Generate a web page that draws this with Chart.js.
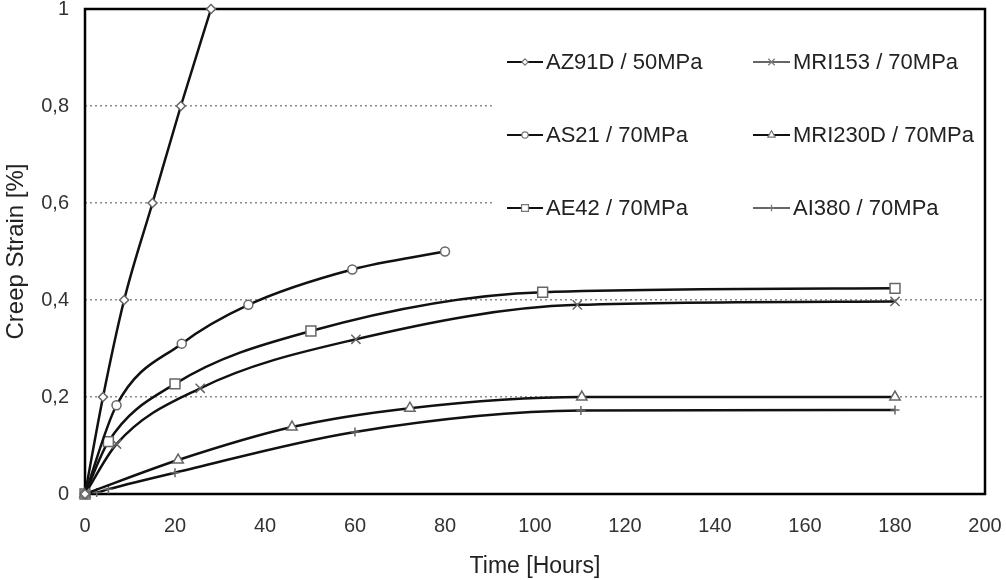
<!DOCTYPE html>
<html>
<head>
<meta charset="utf-8">
<script src="https://cdn.jsdelivr.net/npm/chart.js@4/dist/chart.umd.min.js"></script>
<style>
html,body{margin:0;padding:0;background:#fff;}
canvas{display:block;}
</style>
</head>
<body>
<canvas id="c" width="1006" height="580"></canvas>
<script>
// ---- data ----
const seriesLabels = ['AZ91D / 50MPa','AS21 / 70MPa','AE42 / 70MPa','MRI153 / 70MPa','MRI230D / 70MPa','AI380 / 70MPa'];

const az91dHours   = [0, 4, 8.7, 15, 21.3, 28];
const az91dStrain  = [0, 0.2, 0.4, 0.6, 0.8, 1.0];

const as21Hours    = [0, 7, 21.5, 36.3, 59.4, 80];
const as21Strain   = [0, 0.183, 0.31, 0.39, 0.463, 0.5];

const ae42Hours    = [0, 5.2, 20, 50.2, 101.7, 180];
const ae42Strain   = [0, 0.108, 0.227, 0.336, 0.416, 0.424];

const mri153Hours  = [0, 7, 25.6, 60.2, 109.4, 180];
const mri153Strain = [0, 0.103, 0.218, 0.319, 0.39, 0.397];

const mri230Hours  = [0, 20.7, 46, 72.2, 110.4, 180];
const mri230Strain = [0, 0.07, 0.138, 0.177, 0.2, 0.2];

const ai380Hours   = [0, 2.6, 5.2, 20, 60, 110.2, 180];
const ai380Strain  = [0, 0.003, 0.01, 0.044, 0.128, 0.172, 0.173];

const xTicks = [0,20,40,60,80,100,120,140,160,180,200];
const yTicks = [0,0.2,0.4,0.6,0.8,1];

const FONT = '"Liberation Sans", Arial, Helvetica, sans-serif';

function pts(xs, ys){ return xs.map((x,i)=>({x:x, y:ys[i]})); }

const styles = [
  {pointStyle:'rectRot', radius:4.5},
  {pointStyle:'circle', radius:4.5},
  {pointStyle:'rect', radius:7},
  {pointStyle:'crossRot', radius:6.5},
  {pointStyle:'triangle', radius:6},
  {pointStyle:'cross', radius:4.5}
];
const seriesData = [
  pts(az91dHours, az91dStrain),
  pts(as21Hours, as21Strain),
  pts(ae42Hours, ae42Strain),
  pts(mri153Hours, mri153Strain),
  pts(mri230Hours, mri230Strain),
  pts(ai380Hours, ai380Strain)
];

const datasets = seriesData.map((d,i)=>({
  label: seriesLabels[i],
  data: d,
  borderColor: '#111',
  borderWidth: 2.5,
  pointStyle: styles[i].pointStyle,
  pointRadius: styles[i].radius,
  pointBackgroundColor: '#fff',
  pointBorderColor: '#666',
  pointBorderWidth: 1.5,
  cubicInterpolationMode: 'monotone',
  clip: false,
  fill: false
}));

const framePlugin = {
  id: 'frame',
  beforeDatasetsDraw(chart){
    const {ctx, chartArea: a} = chart;
    ctx.save();
    // white area behind legend hiding the gridlines
    ctx.fillStyle = '#fff';
    ctx.fillRect(494, 22, a.right - 494 - 2, 212);
    // frame
    ctx.strokeStyle = '#000';
    ctx.lineWidth = 2.5;
    ctx.beginPath();
    ctx.moveTo(a.left, a.bottom);
    ctx.lineTo(a.left, a.top);
    ctx.lineTo(a.right, a.top);
    ctx.lineTo(a.right, a.bottom);
    ctx.lineTo(a.left, a.bottom);
    ctx.stroke();
    ctx.restore();
  },
  afterDraw(chart){
    const ctx = chart.ctx;
    const cols = [{x0:507, x1:543, tx:546},{x0:753, x1:790, tx:793}];
    const rows = [62, 135, 208];
    ctx.save();
    chart.data.datasets.forEach((ds,i)=>{
      const col = cols[Math.floor(i/3)];
      const y = rows[i%3];
      const thin = (ds.pointStyle === 'cross' || ds.pointStyle === 'crossRot');
      ctx.strokeStyle = thin ? '#333' : '#111';
      ctx.lineWidth = thin ? 1.5 : 2.2;
      ctx.beginPath();
      ctx.moveTo(col.x0, y);
      ctx.lineTo(col.x1, y);
      ctx.stroke();
      ctx.fillStyle = '#fff';
      ctx.strokeStyle = '#777';
      ctx.lineWidth = 1.2;
      Chart.helpers.drawPoint(ctx, {pointStyle: ds.pointStyle, radius: ds.pointRadius*0.7, rotation:0, borderWidth:1.2}, (col.x0+col.x1)/2, y);
      ctx.fillStyle = '#222';
      ctx.font = '22px ' + FONT;
      ctx.textAlign = 'left';
      ctx.textBaseline = 'middle';
      ctx.fillText(ds.label, col.tx, y + 1);
    });
    ctx.restore();
  }
};

new Chart(document.getElementById('c'), {
  type: 'line',
  data: { datasets: datasets },
  plugins: [framePlugin],
  options: {
    responsive: false,
    animation: false,
    devicePixelRatio: 1,
    layout: { padding: { top: 9, right: 21, left: 0, bottom: 0 } },
    plugins: { legend: { display: false }, tooltip: { enabled: false } },
    scales: {
      x: {
        type: 'linear',
        min: 0, max: 200,
        afterBuildTicks(scale){ scale.ticks = xTicks.map(v=>({value:v})); },
        afterFit(scale){ scale.height = 86; scale.paddingLeft = 0; scale.paddingRight = 0; },
        grid: { display: false, drawTicks: false },
        border: { display: false },
        ticks: { padding: 20, color: '#333', font: { family: FONT, size: 20 }, maxRotation: 0 },
        title: { display: true, text: 'Time [Hours]', color: '#222', padding: { top: 0, bottom: 0 }, font: { family: FONT, size: 23 } }
      },
      y: {
        type: 'linear',
        min: 0, max: 1,
        afterBuildTicks(scale){ scale.ticks = yTicks.map(v=>({value:v})); },
        afterFit(scale){ scale.width = 85; scale.paddingTop = 0; scale.paddingBottom = 0; },
        grid: {
          drawTicks: false,
          color: c => (c.tick && (c.tick.value === 0 || c.tick.value === 1)) ? 'rgba(0,0,0,0)' : '#8a8a8a',
          lineWidth: 1.5
        },
        border: { display: false, dash: [2, 3] },
        ticks: {
          padding: 16, color: '#333', font: { family: FONT, size: 20 },
          callback: v => (v === 0 ? '0' : v === 1 ? '1' : v.toFixed(1).replace('.', ','))
        },
        title: { display: true, text: 'Creep Strain [%]', color: '#222', padding: { top: 2, bottom: 0 }, font: { family: FONT, size: 24 } }
      }
    }
  }
});
</script>
</body>
</html>
